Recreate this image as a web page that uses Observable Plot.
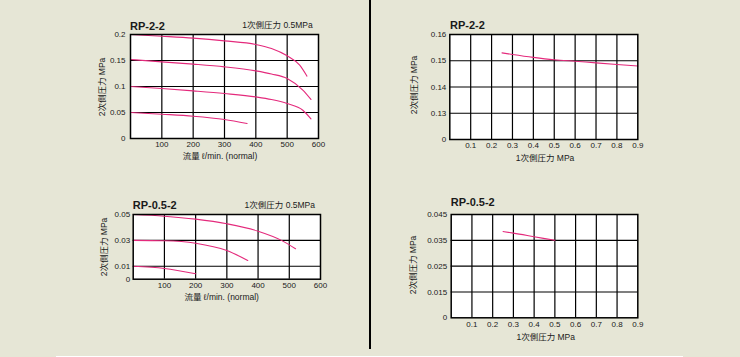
<!DOCTYPE html>
<html>
<head>
<meta charset="utf-8">
<script src="https://cdn.jsdelivr.net/npm/d3@7"></script>
<script src="https://cdn.jsdelivr.net/npm/@observablehq/plot@0.6"></script>
<style>
  html, body { margin: 0; padding: 0; }
  body { width: 740px; height: 357px; background: #e6e6d6; position: relative; overflow: hidden;
         font-family: "Liberation Sans", Arial, "Noto Sans CJK JP", sans-serif; color: #1a1a1a; }
  .chart { position: absolute; }
  .lbl { position: absolute; white-space: nowrap; line-height: 1; }
</style>
</head>
<body>
<script>
// ---------- DATA ----------
// RP-2-2 flow characteristics (primary 0.5 MPa)
const flowTicks = [0, 100, 200, 300, 400, 500, 600];
const rp22FlowTicksY = [0, 0.05, 0.1, 0.15, 0.2];
const rp22Flow020 = [[0,0.2],[100,0.1967],[200,0.193],[300,0.1877],[400,0.1807],[450,0.173],[500,0.159],[540,0.141],[563,0.12]];
const rp22Flow015 = [[0,0.152],[100,0.1473],[200,0.143],[300,0.1378],[400,0.130],[450,0.124],[500,0.1154],[550,0.093],[576,0.075]];
const rp22Flow010 = [[0,0.1],[100,0.0962],[200,0.0916],[300,0.0865],[400,0.080],[450,0.075],[500,0.0673],[550,0.0544],[576,0.0377]];
const rp22Flow005 = [[0,0.05],[100,0.0467],[200,0.0429],[300,0.0365],[372,0.0288]];

// RP-0.5-2 flow characteristics (primary 0.5 MPa)
const rp052FlowTicksY = [0, 0.01, 0.03, 0.05];
const rp052Flow005 = [[0,0.05],[100,0.0487],[200,0.0464],[300,0.0428],[400,0.0371],[475,0.03],[520,0.0235]];
const rp052Flow003 = [[0,0.03],[100,0.0297],[200,0.0278],[300,0.0221],[367,0.0145]];
const rp052Flow001 = [[0,0.01],[100,0.0083],[200,0.0042]];

// Pressure characteristics (primary vs secondary)
const primaryTicks = [0, 0.1, 0.2, 0.3, 0.4, 0.5, 0.6, 0.7, 0.8, 0.9];
const rp22PressTicksY = [0.12, 0.13, 0.14, 0.15, 0.16];      // bottom tick shown as "0"
const rp22Press = [[0.25,0.153],[0.3,0.1524],[0.4,0.1513],[0.5,0.1504],[0.6,0.1498],[0.7,0.1492],[0.8,0.1486],[0.9,0.148]];
const rp052PressTicksY = [0.005, 0.015, 0.025, 0.035, 0.045]; // bottom tick shown as "0"
const rp052Press = [[0.25,0.0384],[0.3,0.0378],[0.4,0.0364],[0.5,0.035]];

// ---------- HELPERS ----------
const CURVE = "#e42a7c";
function label(text, x, y, opt = {}) {
  const s = document.createElement("span");
  s.className = "lbl";
  s.textContent = text;
  s.style.left = x + "px";
  s.style.top = y + "px";
  s.style.fontSize = (opt.size || 8.5) + "px";
  if (opt.weight) s.style.fontWeight = opt.weight;
  const tx = opt.anchor === "end" ? "-100%" : opt.anchor === "start" ? "0" : "-50%";
  s.style.transform = `translate(${tx},-50%)` + (opt.rotate ? ` rotate(${opt.rotate}deg)` : "");
  document.body.appendChild(s);
}
function chart({left, top, width, height, margins, xDomain, xTicks, yDomain, yTicks, yFormat, series, padX, padY}) {
  const xInner = xTicks.filter(t => t > xDomain[0] && t < xDomain[1]);
  const yInner = yTicks.filter(t => t > yDomain[0] && t < yDomain[1]);
  const xLabelTicks = xTicks.filter(t => t > xDomain[0]);
  const p = Plot.plot({
    width, height,
    marginLeft: margins[0], marginRight: margins[1], marginTop: margins[2], marginBottom: margins[3],
    style: {background: "transparent", fontFamily: "Liberation Sans, Arial, sans-serif", fontSize: "8px", color: "#1a1a1a"},
    x: {domain: xDomain},
    y: {domain: yDomain},
    marks: [
      Plot.frame({fill: "white", stroke: null}),
      Plot.gridX(xInner, {stroke: "black", strokeOpacity: 1, strokeWidth: 1.2}),
      Plot.gridY(yInner, {stroke: "black", strokeOpacity: 1, strokeWidth: 1.2}),
      ...series.map(s => Plot.line(s, {x: d => d[0], y: d => d[1], stroke: CURVE, strokeWidth: 1.1, curve: "monotone-x"})),
      Plot.frame({stroke: "black", strokeWidth: 1.5}),
      Plot.axisX(xLabelTicks, {tickSize: 0, tickPadding: padX, label: null, fontSize: 8, tickFormat: d => String(d)}),
      Plot.axisY(yTicks, {tickSize: 0, tickPadding: padY, label: null, fontSize: 8, tickFormat: yFormat})
    ]
  });
  const div = document.createElement("div");
  div.className = "chart";
  div.style.left = left + "px";
  div.style.top = top + "px";
  div.appendChild(p);
  document.body.appendChild(div);
}

// ---------- CHARTS ----------
chart({left: 0, top: 0, width: 370, height: 175, margins: [130, 52, 34, 37],
  xDomain: [0, 600], xTicks: flowTicks, yDomain: [0, 0.2], yTicks: rp22FlowTicksY,
  yFormat: d => String(d), series: [rp22Flow020, rp22Flow015, rp22Flow010, rp22Flow005], padX: 3, padY: 5});

chart({left: 370, top: 0, width: 370, height: 175, margins: [79.3, 102.7, 34, 36],
  xDomain: [0, 0.9], xTicks: primaryTicks, yDomain: [0.12, 0.16], yTicks: rp22PressTicksY,
  yFormat: d => d === 0.12 ? "0" : String(d), series: [rp22Press], padX: 3, padY: 3.5});

chart({left: 0, top: 180, width: 370, height: 170, margins: [132.7, 50, 34, 71.3],
  xDomain: [0, 600], xTicks: flowTicks, yDomain: [0, 0.05], yTicks: rp052FlowTicksY,
  yFormat: d => String(d), series: [rp052Flow005, rp052Flow003, rp052Flow001], padX: 3, padY: 3});

chart({left: 370, top: 180, width: 370, height: 170, margins: [80.7, 102.7, 34, 32.7],
  xDomain: [0, 0.9], xTicks: primaryTicks, yDomain: [0.005, 0.045], yTicks: rp052PressTicksY,
  yFormat: d => d === 0.005 ? "0" : String(d), series: [rp052Press], padX: 4, padY: 4});

// ---------- TEXT ----------
label("RP-2-2", 130, 25.7, {anchor: "start", size: 11, weight: "bold"});
label("1次側圧力 0.5MPa", 312.7, 25, {anchor: "end", size: 8.5});
label("流量 ℓ/min. (normal)", 220, 155.7, {size: 8.5});
label("2次側圧力 MPa", 102, 87, {size: 8.5, rotate: -90});

label("RP-2-2", 450, 25, {anchor: "start", size: 11, weight: "bold"});
label("1次側圧力 MPa", 545, 158.3, {size: 8.5});
label("2次側圧力 MPa", 414, 85, {size: 8.5, rotate: -90});

label("RP-0.5-2", 132.7, 205, {anchor: "start", size: 11, weight: "bold"});
label("1次側圧力 0.5MPa", 315, 205, {anchor: "end", size: 8.5});
label("流量 ℓ/min. (normal)", 221.7, 296.7, {size: 8.5});
label("2次側圧力 MPa", 104, 246.5, {size: 8.5, rotate: -90});

label("RP-0.5-2", 450.7, 202.3, {anchor: "start", size: 11, weight: "bold"});
label("1次側圧力 MPa", 545.7, 336.7, {size: 8.5});
label("2次側圧力 MPa", 413, 265, {size: 8.5, rotate: -90});

// divider and bottom strip
const dv = document.createElement("div");
Object.assign(dv.style, {position: "absolute", left: "369px", top: "0px", width: "1.5px", height: "349px", background: "#000"});
document.body.appendChild(dv);
const bs = document.createElement("div");
Object.assign(bs.style, {position: "absolute", left: "56px", top: "356px", width: "627px", height: "1px", background: "#fff"});
document.body.appendChild(bs);
</script>
</body>
</html>
